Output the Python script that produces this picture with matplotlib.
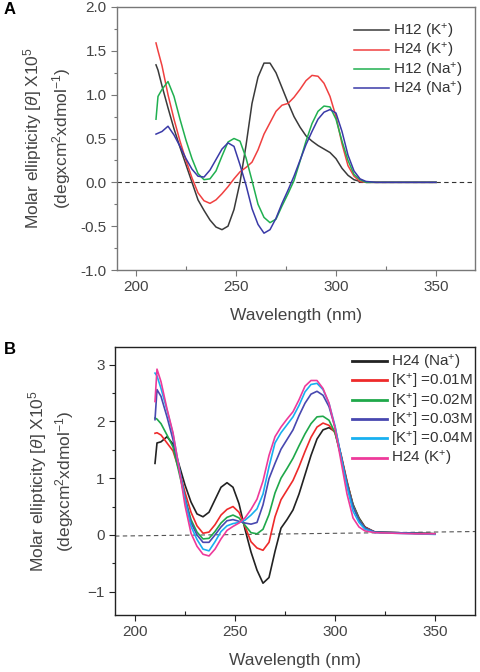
import matplotlib
matplotlib.use("Agg")
import matplotlib.pyplot as plt
from matplotlib.ticker import MultipleLocator, FixedLocator

plt.rcParams["font.family"] = ["Liberation Sans", "DejaVu Sans"]
plt.rcParams["mathtext.fontset"] = "custom"
plt.rcParams["mathtext.rm"] = "Liberation Sans"
plt.rcParams["mathtext.it"] = "Liberation Sans:italic"
plt.rcParams["mathtext.bf"] = "Liberation Sans:bold"

# Data (wavelength grid shared by all curves)
wavelength = [210, 211, 213, 216, 219, 222, 225, 228, 231, 234, 237, 240, 243,
              246, 249, 252, 255, 258, 261, 264, 267, 270, 273, 276, 279, 282,
              285, 288, 291, 294, 297, 300, 303, 306, 309, 312, 315, 320, 330,
              340, 350]

# Panel A
h12_k = [1.34, 1.28, 1.10, 0.85, 0.61, 0.40, 0.20, 0.00, -0.20, -0.32, -0.43,
         -0.51, -0.54, -0.50, -0.31, 0.00, 0.42, 0.90, 1.20, 1.36, 1.36, 1.25,
         1.08, 0.91, 0.75, 0.63, 0.53, 0.47, 0.42, 0.38, 0.34, 0.27, 0.16,
         0.08, 0.03, 0.01, 0.00, 0.00, 0.00, 0.00, 0.00]
h24_k = [1.59, 1.50, 1.33, 1.00, 0.72, 0.47, 0.25, 0.05, -0.12, -0.21, -0.24,
         -0.20, -0.13, -0.05, 0.04, 0.12, 0.17, 0.23, 0.37, 0.55, 0.68, 0.81,
         0.88, 0.90, 0.97, 1.06, 1.16, 1.22, 1.21, 1.13, 0.98, 0.75, 0.44,
         0.19, 0.07, 0.01, 0.00, 0.00, 0.00, 0.00, 0.00]
h12_na = [0.72, 0.98, 1.06, 1.15, 0.98, 0.72, 0.48, 0.27, 0.10, 0.03, 0.04,
          0.13, 0.30, 0.46, 0.50, 0.47, 0.28, 0.02, -0.25, -0.40, -0.46, -0.42,
          -0.27, -0.13, 0.02, 0.24, 0.47, 0.67, 0.81, 0.87, 0.86, 0.72, 0.47,
          0.25, 0.09, 0.03, 0.00, 0.00, 0.00, 0.00, 0.00]
h24_na = [0.55, 0.56, 0.58, 0.64, 0.54, 0.41, 0.27, 0.15, 0.07, 0.06, 0.14,
          0.26, 0.38, 0.45, 0.41, 0.20, -0.03, -0.30, -0.48, -0.58, -0.54,
          -0.41, -0.24, -0.09, 0.07, 0.25, 0.43, 0.58, 0.72, 0.80, 0.83, 0.79,
          0.58, 0.31, 0.13, 0.04, 0.01, 0.00, 0.00, 0.00, 0.00]

# Panel B
b_h24_na = [1.26, 1.62, 1.64, 1.73, 1.60, 1.24, 0.88, 0.58, 0.37, 0.32, 0.40,
            0.62, 0.84, 0.92, 0.84, 0.55, 0.10, -0.30, -0.62, -0.85, -0.75,
            -0.29, 0.12, 0.27, 0.44, 0.72, 1.06, 1.40, 1.69, 1.85, 1.89, 1.82,
            1.40, 0.93, 0.54, 0.30, 0.14, 0.05, 0.04, 0.03, 0.02]
b_k001 = [1.79, 1.80, 1.76, 1.62, 1.48, 1.15, 0.75, 0.40, 0.16, 0.03, 0.05,
          0.18, 0.35, 0.45, 0.50, 0.40, 0.15, -0.12, -0.23, -0.27, -0.13, 0.32,
          0.62, 0.79, 0.96, 1.20, 1.47, 1.72, 1.90, 1.97, 1.93, 1.80, 1.42,
          0.95, 0.52, 0.28, 0.13, 0.05, 0.04, 0.03, 0.02]
b_k002 = [2.06, 2.04, 1.96, 1.76, 1.55, 1.10, 0.65, 0.27, 0.05, -0.07, -0.06,
          0.06, 0.21, 0.31, 0.35, 0.30, 0.17, 0.04, 0.02, 0.10, 0.36, 0.74,
          1.00, 1.17, 1.35, 1.57, 1.78, 1.96, 2.08, 2.09, 2.02, 1.80, 1.38,
          0.92, 0.52, 0.28, 0.12, 0.05, 0.04, 0.03, 0.02]
b_k003 = [2.03, 2.56, 2.44, 2.08, 1.68, 1.18, 0.65, 0.22, 0.00, -0.13, -0.13,
          0.00, 0.14, 0.25, 0.27, 0.24, 0.21, 0.19, 0.22, 0.53, 0.99, 1.26,
          1.51, 1.68, 1.85, 2.10, 2.32, 2.48, 2.53, 2.46, 2.26, 1.90, 1.40,
          0.90, 0.50, 0.26, 0.12, 0.05, 0.04, 0.03, 0.02]
b_k004 = [2.85, 2.80, 2.58, 2.20, 1.78, 1.20, 0.62, 0.15, -0.08, -0.25, -0.28,
          -0.12, 0.06, 0.16, 0.20, 0.22, 0.26, 0.35, 0.46, 0.72, 1.20, 1.62,
          1.80, 1.94, 2.08, 2.28, 2.52, 2.65, 2.67, 2.56, 2.32, 1.92, 1.38,
          0.85, 0.42, 0.22, 0.10, 0.04, 0.03, 0.02, 0.01]
b_h24_k = [2.35, 2.92, 2.70, 2.22, 1.80, 1.18, 0.52, 0.03, -0.20, -0.34, -0.37,
           -0.25, -0.07, 0.08, 0.15, 0.21, 0.30, 0.45, 0.63, 0.95, 1.40, 1.73,
           1.90, 2.04, 2.17, 2.38, 2.62, 2.72, 2.72, 2.58, 2.32, 1.88, 1.30,
           0.72, 0.30, 0.14, 0.07, 0.04, 0.03, 0.02, 0.02]

labels_a = ["H12 (K$^{+}$)", "H24 (K$^{+}$)", "H12 (Na$^{+}$)", "H24 (Na$^{+}$)"]
colors_a = ["#3a3a3a", "#f04040", "#20b050", "#3a3aa8"]
labels_b = ["H24 (Na$^{+}$)", "[K$^{+}$] =0.01M", "[K$^{+}$] =0.02M",
            "[K$^{+}$] =0.03M", "[K$^{+}$] =0.04M", "H24 (K$^{+}$)"]
colors_b = ["#222222", "#ee2a2a", "#1fa84a", "#4848b0", "#18b0f0", "#ee3a9a"]

baseline_b_x = [190, 370]
baseline_b_y = [-0.02, 0.06]

ylabel1 = r"Molar ellipticity [$\theta$] X10$^{5}$"
ylabel2 = r"(degxcm$^{2}$xdmol$^{-1}$)"

fig = plt.figure(figsize=(4.8, 6.72), dpi=100)
ax_a = fig.add_axes([117 / 480, 1 - 270 / 672, 358 / 480, 263 / 672])
ax_b = fig.add_axes([115 / 480, 1 - 615 / 672, 360 / 480, 268 / 672])

# Panel A
for vals, lab, col in zip([h12_k, h24_k, h12_na, h24_na], labels_a, colors_a):
    ax_a.plot(wavelength, vals, color=col, lw=1.1, label=lab)
ax_a.axhline(0, color="#333333", lw=0.8, ls=(0, (4, 3)), zorder=0)
ax_a.set_xlim(190.5, 369.5)
ax_a.set_ylim(-1.0, 2.0)
ax_a.yaxis.set_major_locator(MultipleLocator(0.5))
ax_a.yaxis.set_minor_locator(MultipleLocator(0.25))
ax_a.yaxis.set_major_formatter(matplotlib.ticker.FormatStrFormatter("%.1f"))

# Panel B
for vals, lab, col in zip([b_h24_na, b_k001, b_k002, b_k003, b_k004, b_h24_k],
                          labels_b, colors_b):
    ax_b.plot(wavelength, vals, color=col, lw=1.2, label=lab)
ax_b.plot(baseline_b_x, baseline_b_y, color="#555555", lw=0.8,
          ls=(0, (4, 3)), zorder=0)
ax_b.set_xlim(190, 370)
ax_b.set_ylim(-1.41, 3.31)
ax_b.yaxis.set_major_locator(MultipleLocator(1))
ax_b.yaxis.set_minor_locator(MultipleLocator(0.5))

for ax, spine_col, l1x, l2x, anchor in [
        (ax_a, "#777777", -0.235, -0.154, (0.966, 0.943)),
        (ax_b, "#222222", -0.214, -0.139, (0.994, 0.978))]:
    ax.xaxis.set_major_locator(FixedLocator([200, 250, 300, 350]))
    ax.xaxis.set_minor_locator(FixedLocator([225, 275, 325]))
    for s in ax.spines.values():
        s.set_color(spine_col)
        s.set_linewidth(1.0)
    ax.tick_params(axis="both", which="major", direction="out", length=4,
                   width=0.8, color=spine_col, labelsize=11, labelcolor="#444444")
    ax.tick_params(axis="y", which="minor", direction="out", length=2.5,
                   width=0.8, color=spine_col)
    ax.tick_params(axis="x", which="minor", direction="in", length=3,
                   width=0.8, color=spine_col)
    ax.set_xlabel("Wavelength (nm)", fontsize=12.5, color="#444444", labelpad=10)
    ax.text(l1x, 0.5, ylabel1, rotation=90, transform=ax.transAxes,
            ha="center", va="center", fontsize=12.5, color="#444444")
    ax.text(l2x, 0.5, ylabel2, rotation=90, transform=ax.transAxes,
            ha="center", va="center", fontsize=12.5, color="#444444")
    leg = ax.legend(loc="upper right", bbox_to_anchor=anchor, frameon=False,
                    fontsize=11, handlelength=2.25, handletextpad=0.3,
                    labelspacing=0.02, borderaxespad=0, borderpad=0)
    for t in leg.get_texts():
        t.set_color("#333333")

for h in ax_b.get_legend().get_lines():
    h.set_linewidth(2.0)

fig.text(4 / 480, 1 - 14 / 672, "A", fontsize=12, fontweight="bold")
fig.text(4 / 480, 1 - 354 / 672, "B", fontsize=12, fontweight="bold")

fig.savefig("out.png", dpi=100)
